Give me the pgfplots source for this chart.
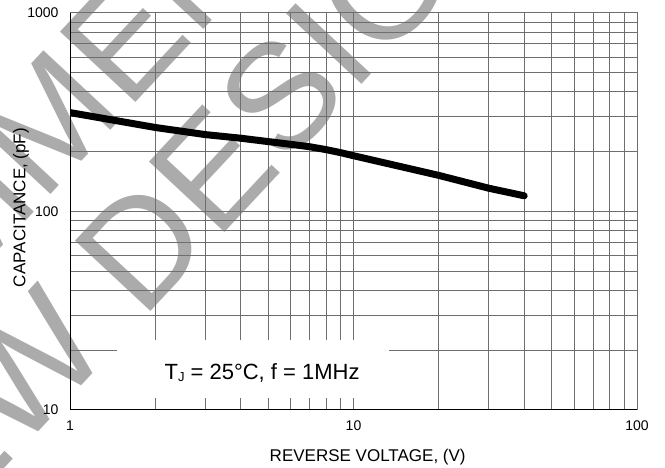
\documentclass[border=0pt]{standalone}
\usepackage{pgfplots}
\pgfplotsset{compat=1.18}
\usepackage{fontspec}
\setmainfont{Liberation Sans}
\definecolor{wmgray}{HTML}{ABABAB}
\definecolor{gridgray}{HTML}{6E6E6E}

\begin{document}
\begin{tikzpicture}
\useasboundingbox (0,0) rectangle (665bp,468bp);
% watermark behind the chart
\begin{scope}
\clip (0,0) rectangle (665bp,468bp);
\begin{scope}[shift={(140bp,224bp)}, rotate=47]
  \node[anchor=base, inner sep=0pt, text=wmgray, transform shape,
        font=\fontsize{150bp}{150bp}\selectfont] at (-141.6bp,-53.7bp) {FOR NEW DESIGN};
  \node[anchor=base, inner sep=0pt, text=wmgray, transform shape,
        font=\fontsize{150bp}{150bp}\selectfont] at (-170bp,99.3bp) {NOT RECOMMENDED};
\end{scope}
\end{scope}

\begin{axis}[
    at={(70bp,58bp)}, anchor=south west,
    scale only axis, width=567bp, height=397bp,
    xmode=log, ymode=log,
    xmin=1, xmax=100, ymin=10, ymax=1000,
    xtick={1,10,100}, xticklabels={1,10,100},
    ytick={10,100,1000}, yticklabels={10,100,1000},
    minor xtick={2,3,4,5,6,7,8,9,20,30,40,50,60,70,80,90},
    minor ytick={20,30,40,50,60,70,80,90,200,300,400,500,600,700,800,900},
    grid=both,
    major grid style={gridgray, line width=1bp},
    minor grid style={gridgray, line width=1bp},
    axis line style={gridgray, line width=1bp},
    major tick length=0pt, minor tick length=0pt,
    ticklabel style={font=\fontsize{14bp}{14bp}\selectfont},
    xticklabel style={yshift=-7bp},
    yticklabel style={xshift=-8bp},
    xlabel={REVERSE VOLTAGE, (V)},
    ylabel={CAPACITANCE, (pF)},
    label style={font=\fontsize{17bp}{17bp}\selectfont},
    xlabel style={at={(axis description cs:0.525,-0.1184)}, anchor=center},
    ylabel style={at={(axis description cs:-0.0864,0.51)}, anchor=center},
]
\addplot[black, line width=7bp, line cap=round, line join=round] coordinates {
    (1,315) (2,265) (3,244) (4,234) (5,225) (6,218) (7,212)
    (8,205) (9,198) (10,191) (20,152) (30,131) (40,120)
};
\fill[white] (axis cs:1.465,11.5) rectangle (axis cs:13.35,22.5);
\node[font=\fontsize{22bp}{22bp}\selectfont] at (axis cs:4.76,15.4)
    {T\raisebox{-2bp}{\fontsize{13bp}{13bp}\selectfont J} = 25°C, f = 1MHz};
\draw[black, line width=1.8bp] (rel axis cs:0,1) -- (rel axis cs:0,0) -- (rel axis cs:1,0);
\end{axis}
\end{tikzpicture}
\end{document}
